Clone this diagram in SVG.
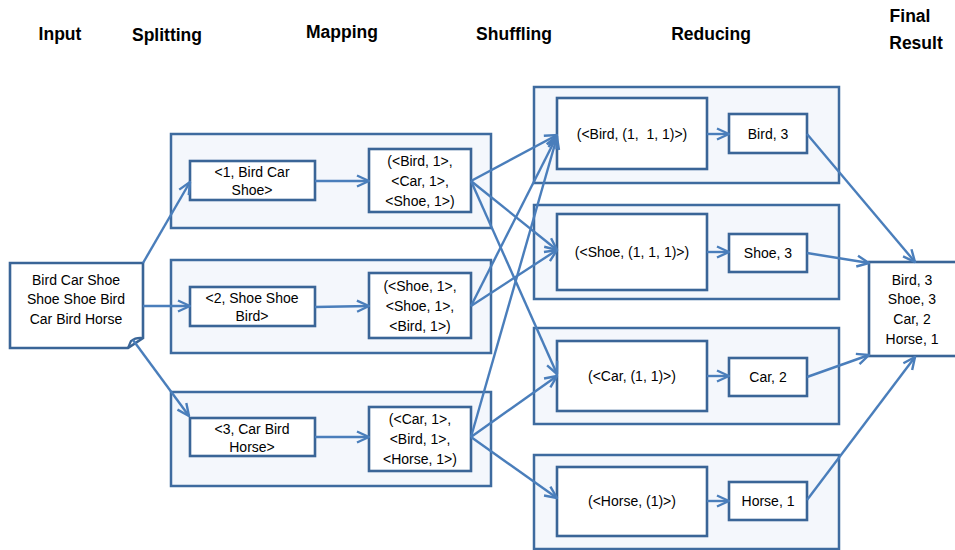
<svg xmlns="http://www.w3.org/2000/svg" width="955" height="550" viewBox="0 0 955 550">
  <style>
    .hdr { font-family: "Liberation Sans", Arial, sans-serif; font-size: 17.5px; font-weight: bold; fill: #000; text-anchor: middle; }
    .txt { font-family: "Liberation Sans", Arial, sans-serif; font-size: 14px; fill: #000; text-anchor: middle; white-space: pre; }
    .group { fill: #f4f7fc; stroke: #3e6b9f; stroke-width: 2.5; }
    .box { fill: #ffffff; stroke: #3a6597; stroke-width: 2.6; }
    .conn { fill: none; stroke: #4a7ebb; stroke-width: 2.4; marker-end: url(#arrow); }
  </style>
  <defs>
    <marker id="arrow" viewBox="0 0 14 14" refX="13" refY="7" markerWidth="14" markerHeight="14" markerUnits="userSpaceOnUse" orient="auto">
      <path d="M1,1.5 L13,7 L1,12.5" fill="none" stroke="#4a7ebb" stroke-width="2.4" stroke-linejoin="miter"/>
    </marker>
  </defs>
  <rect width="955" height="550" fill="#ffffff"/>

  <!-- column headers -->
  <g id="headers">
    <text class="hdr" x="60" y="40">Input</text>
    <text class="hdr" x="167" y="41">Splitting</text>
    <text class="hdr" x="342" y="38">Mapping</text>
    <text class="hdr" x="514" y="40">Shuffling</text>
    <text class="hdr" x="711" y="40">Reducing</text>
    <text class="hdr" x="910" y="22">Final</text>
    <text class="hdr" x="916" y="49">Result</text>
  </g>

  <!-- split/map stage containers -->
  <g id="stage-1"><rect class="group" x="171" y="134" width="320" height="94"/></g>
  <g id="stage-2"><rect class="group" x="171" y="260" width="320" height="93"/></g>
  <g id="stage-3"><rect class="group" x="171" y="392" width="320" height="94"/></g>

  <!-- reduce stage containers -->
  <g id="reduce-1"><rect class="group" x="534" y="87" width="305" height="96"/></g>
  <g id="reduce-2"><rect class="group" x="534" y="205" width="305" height="94"/></g>
  <g id="reduce-3"><rect class="group" x="534" y="328" width="305" height="96"/></g>
  <g id="reduce-4"><rect class="group" x="534" y="455" width="305" height="94"/></g>

  <!-- input document -->
  <g id="input">
    <path class="box" d="M10,263 H143 V338 L128,348 H10 Z"/>
    <path d="M128,348 L131,341 Q136,337 143,338" fill="none" stroke="#3a6597" stroke-width="2.2"/>
    <text class="txt" x="76" y="285">Bird Car Shoe</text>
    <text class="txt" x="76" y="304">Shoe Shoe Bird</text>
    <text class="txt" x="76" y="324">Car Bird Horse</text>
  </g>

  <!-- splitting -->
  <g id="split-1">
    <rect class="box" x="190" y="161" width="125" height="39"/>
    <text class="txt" x="252" y="177">&lt;1, Bird Car</text>
    <text class="txt" x="252" y="195">Shoe&gt;</text>
  </g>
  <g id="split-2">
    <rect class="box" x="190" y="287" width="125" height="39"/>
    <text class="txt" x="252" y="303">&lt;2, Shoe Shoe</text>
    <text class="txt" x="252" y="321">Bird&gt;</text>
  </g>
  <g id="split-3">
    <rect class="box" x="190" y="418" width="125" height="38"/>
    <text class="txt" x="252" y="434">&lt;3, Car Bird</text>
    <text class="txt" x="252" y="452">Horse&gt;</text>
  </g>

  <!-- mapping -->
  <g id="map-1">
    <rect class="box" x="369" y="149" width="102" height="63"/>
    <text class="txt" x="420" y="166">(&lt;Bird, 1&gt;,</text>
    <text class="txt" x="420" y="186">&lt;Car, 1&gt;,</text>
    <text class="txt" x="420" y="206">&lt;Shoe, 1&gt;)</text>
  </g>
  <g id="map-2">
    <rect class="box" x="369" y="273" width="102" height="65"/>
    <text class="txt" x="420" y="291">(&lt;Shoe, 1&gt;,</text>
    <text class="txt" x="420" y="311">&lt;Shoe, 1&gt;,</text>
    <text class="txt" x="420" y="331">&lt;Bird, 1&gt;)</text>
  </g>
  <g id="map-3">
    <rect class="box" x="369" y="407" width="102" height="64"/>
    <text class="txt" x="420" y="424">(&lt;Car, 1&gt;,</text>
    <text class="txt" x="420" y="444">&lt;Bird, 1&gt;,</text>
    <text class="txt" x="420" y="464">&lt;Horse, 1&gt;)</text>
  </g>

  <!-- shuffled groups -->
  <g id="shuffle-bird">
    <rect class="box" x="557" y="98" width="150" height="71"/>
    <text class="txt" x="632" y="139">(&lt;Bird, (1,  1, 1)&gt;)</text>
  </g>
  <g id="shuffle-shoe">
    <rect class="box" x="557" y="214" width="150" height="76"/>
    <text class="txt" x="632" y="257">(&lt;Shoe, (1, 1, 1)&gt;)</text>
  </g>
  <g id="shuffle-car">
    <rect class="box" x="557" y="341" width="150" height="70"/>
    <text class="txt" x="632" y="381">(&lt;Car, (1, 1)&gt;)</text>
  </g>
  <g id="shuffle-horse">
    <rect class="box" x="557" y="467" width="150" height="69"/>
    <text class="txt" x="632" y="506">(&lt;Horse, (1)&gt;)</text>
  </g>

  <!-- reduced results -->
  <g id="reduce-bird">
    <rect class="box" x="729" y="114" width="78" height="39"/>
    <text class="txt" x="768" y="139">Bird, 3</text>
  </g>
  <g id="reduce-shoe">
    <rect class="box" x="729" y="234" width="78" height="38"/>
    <text class="txt" x="768" y="258">Shoe, 3</text>
  </g>
  <g id="reduce-car">
    <rect class="box" x="729" y="358" width="78" height="38"/>
    <text class="txt" x="768" y="382">Car, 2</text>
  </g>
  <g id="reduce-horse">
    <rect class="box" x="729" y="482" width="78" height="38"/>
    <text class="txt" x="768" y="506">Horse, 1</text>
  </g>

  <!-- final result -->
  <g id="final">
    <rect class="box" x="869" y="262" width="90" height="94"/>
    <text class="txt" x="912" y="285">Bird, 3</text>
    <text class="txt" x="912" y="304">Shoe, 3</text>
    <text class="txt" x="912" y="324">Car, 2</text>
    <text class="txt" x="912" y="344">Horse, 1</text>
  </g>

  <!-- connectors -->
  <g id="connectors">
    <!-- input to splits -->
    <line class="conn" x1="143" y1="263" x2="190" y2="182"/>
    <line class="conn" x1="143" y1="306" x2="190" y2="306"/>
    <line class="conn" x1="133" y1="340" x2="189" y2="416"/>
    <!-- split to map -->
    <line class="conn" x1="315" y1="181" x2="369" y2="181"/>
    <line class="conn" x1="315" y1="307" x2="369" y2="306"/>
    <line class="conn" x1="315" y1="437" x2="369" y2="437"/>
    <!-- shuffling -->
    <line class="conn" x1="471" y1="181" x2="557" y2="135"/>
    <line class="conn" x1="471" y1="181" x2="557" y2="250"/>
    <line class="conn" x1="471" y1="181" x2="557" y2="374"/>
    <line class="conn" x1="471" y1="306" x2="557" y2="136"/>
    <line class="conn" x1="471" y1="306" x2="557" y2="250"/>
    <line class="conn" x1="471" y1="437" x2="557" y2="137"/>
    <line class="conn" x1="471" y1="437" x2="557" y2="376"/>
    <line class="conn" x1="471" y1="437" x2="557" y2="498"/>
    <!-- shuffle to reduce -->
    <line class="conn" x1="707" y1="134" x2="729" y2="134"/>
    <line class="conn" x1="707" y1="252" x2="729" y2="252"/>
    <line class="conn" x1="707" y1="376" x2="729" y2="376"/>
    <line class="conn" x1="707" y1="501" x2="729" y2="501"/>
    <!-- reduce to final -->
    <line class="conn" x1="807" y1="134" x2="915" y2="262"/>
    <line class="conn" x1="807" y1="253" x2="869" y2="263"/>
    <line class="conn" x1="807" y1="377" x2="869" y2="355"/>
    <line class="conn" x1="807" y1="500" x2="915" y2="357"/>
  </g>
</svg>
